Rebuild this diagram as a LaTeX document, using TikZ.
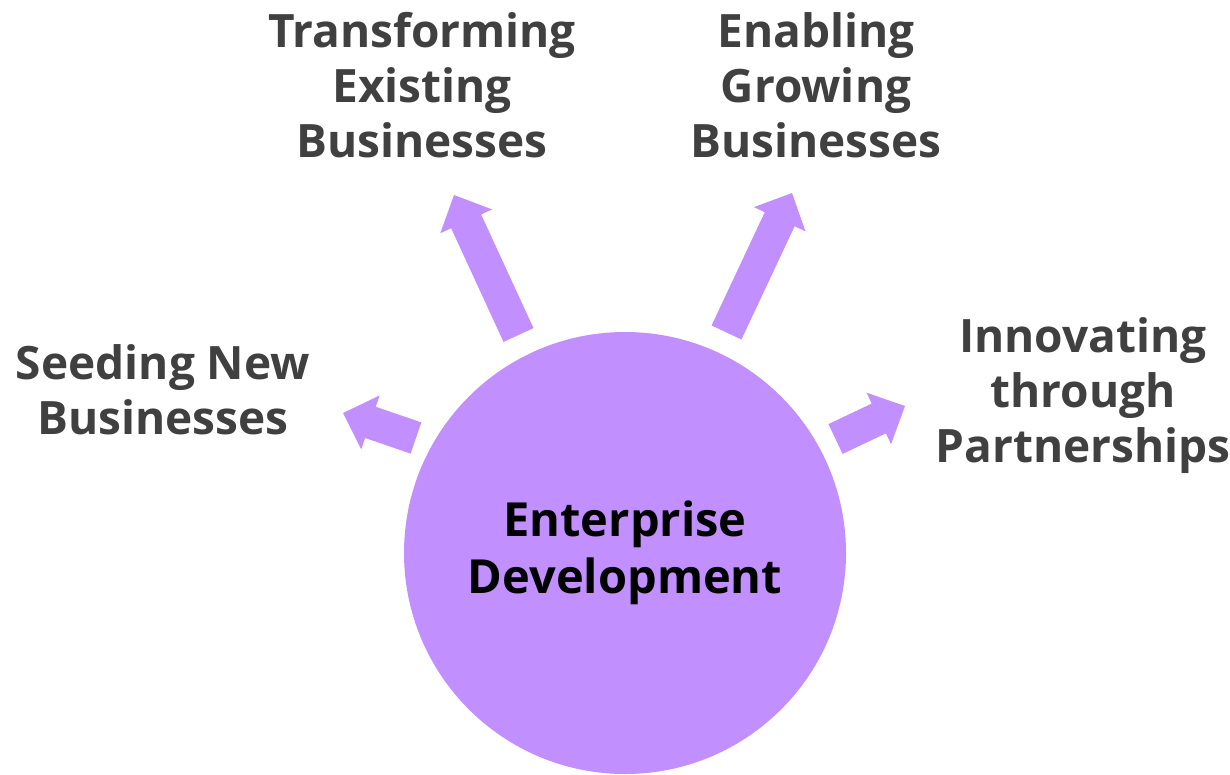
\documentclass[tikz,border=0pt]{standalone}
\usepackage{fontspec}
\setmainfont{Open Sans}
\usetikzlibrary{calc}
\definecolor{lilac}{RGB}{194,143,255}
\definecolor{labelgray}{RGB}{64,64,64}
\tikzset{
  hub/.style={circle, fill=lilac, inner sep=0pt, minimum size=442pt,
    font=\fontsize{47}{57}\selectfont\bfseries, text=black, align=center},
  lbl/.style={font=\fontsize{46}{55}\selectfont\bfseries, text=labelgray,
    align=center, inner sep=0pt, anchor=base},
  blockarrow/.style={fill=lilac}
}
% block arrow from tail #1 to tip #2: shaft half-width 16.5, head half-width 28.5, head length 29
\newcommand\blockarrow[2]{%
  \fill[blockarrow]
    ($(#1)!16.5pt!90:(#2)$)
    -- ($($(#2)!29pt!(#1)$)!16.5pt!-90:(#1)$)
    -- ($($(#2)!29pt!(#1)$)!28.5pt!-90:(#1)$)
    -- (#2)
    -- ($($(#2)!29pt!(#1)$)!28.5pt!90:(#1)$)
    -- ($($(#2)!29pt!(#1)$)!16.5pt!90:(#1)$)
    -- ($(#1)!16.5pt!-90:(#2)$)
    -- cycle;}
\begin{document}
\begin{tikzpicture}[x=1pt, y=-1pt]
  \useasboundingbox (0,0) rectangle (1230,774);
  % central circle
  \node[hub] (hub) at (625,553) {Enterprise\\Development};
  % arrow end points
  \coordinate (t1) at (518.5,335);  \coordinate (p1) at (454,195);
  \coordinate (t2) at (726.5,332.5); \coordinate (p2) at (792,193);
  \coordinate (t3) at (416,438);    \coordinate (p3) at (343,413);
  \coordinate (t4) at (835.5,439);  \coordinate (p4) at (905,406);
  \blockarrow{t1}{p1}
  \blockarrow{t2}{p2}
  \blockarrow{t3}{p3}
  \blockarrow{t4}{p4}
  % labels (anchored at the baseline of their last line)
  \node[lbl] (transform) at (422,157) {Transforming\\Existing\\Businesses};
  \node[lbl] (enable) at (816,157) {Enabling\\Growing\\Businesses};
  \node[lbl] (seed) at (163,434) {Seeding New\\Businesses};
  \node[lbl] (innovate) at (1083,462) {Innovating\\through\\Partnerships};
\end{tikzpicture}
\end{document}
